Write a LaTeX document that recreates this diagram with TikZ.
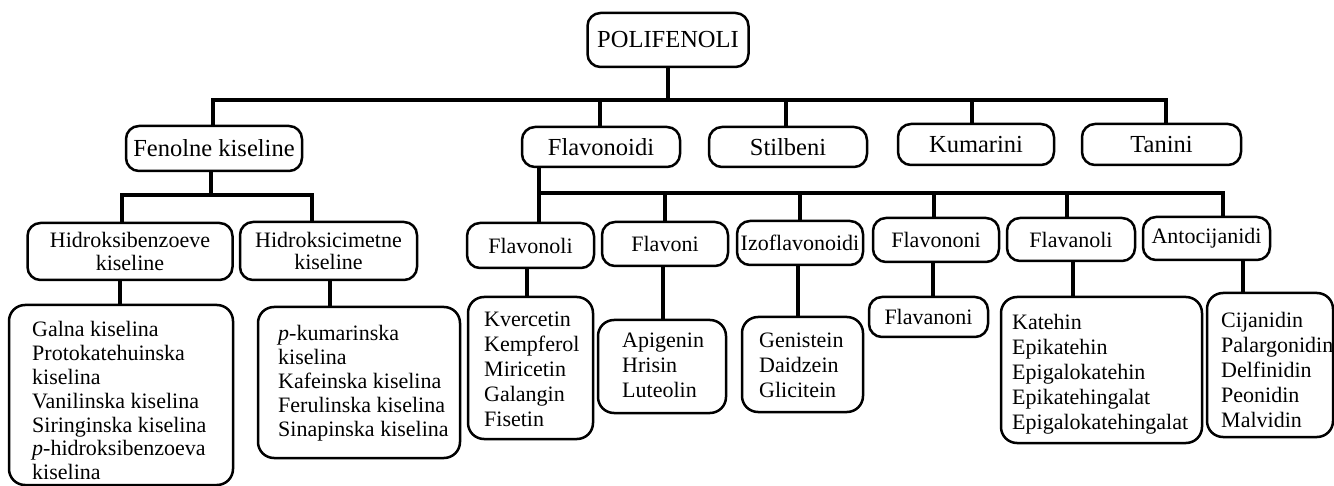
\documentclass[tikz,border=0pt]{standalone}
\usepackage{fontspec}
\setmainfont{Liberation Serif}
\begin{document}
\begin{tikzpicture}[x=1pt,y=-1pt,
  box/.style={draw, line width=2.5pt, rounded corners=13pt, inner sep=0pt},
  lvlA/.style={box, font=\fontsize{24.5}{28}\selectfont},
  lvlB/.style={box, align=center, font=\fontsize{22}{22.3}\selectfont},
  listbox/.style={box, rounded corners=16pt},
  listtxt/.style={align=left, inner sep=0pt, anchor=north west, font=\fontsize{22}{25}\selectfont},
  listtight/.style={listtxt, font=\fontsize{22}{23.9}\selectfont},
  conn/.style={line width=3.2pt}]
\fill[white] (0,0) rectangle (1334,486);
\useasboundingbox (0,0) rectangle (1334,486);

% level 1
\node[lvlA, minimum width=161pt, minimum height=54pt] (pol) at (668,40) {POLIFENOLI};
\node[lvlA, minimum width=176pt, minimum height=45pt] (fen) at (214,148.5) {Fenolne kiseline};
\node[lvlA, minimum width=158pt, minimum height=40pt] (flv) at (601,147) {Flavonoidi};
\node[lvlA, minimum width=158pt, minimum height=40pt] (stil) at (788,147) {Stilbeni};
\node[lvlA, minimum width=156pt, minimum height=41pt] (kum) at (976,144.5) {Kumarini};
\node[lvlA, minimum width=159pt, minimum height=41pt] (tan) at (1161.5,144.5) {Tanini};

% level 2
\node[lvlB, minimum width=205pt, minimum height=57pt] (hb) at (130,251.5) {Hidroksibenzoeve\\kiseline};
\node[lvlB, minimum width=177pt, minimum height=58pt] (hc) at (328.5,251) {Hidroksicimetne\\kiseline};
\node[lvlB, minimum width=127pt, minimum height=45pt] (fol) at (530.5,245.5) {Flavonoli};
\node[lvlB, minimum width=126pt, minimum height=44pt] (fon) at (665,244) {Flavoni};
\node[lvlB, minimum width=126pt, minimum height=44pt] (izo) at (800,243) {Izoflavonoidi};
\node[lvlB, minimum width=126pt, minimum height=44pt] (fnn) at (936,240) {Flavononi};
\node[lvlB, minimum width=128pt, minimum height=43pt] (fln) at (1071,239.5) {Flavanoli};
\node[lvlB, minimum width=127pt, minimum height=43pt] (ant) at (1206.5,238.5) {Antocijanidi};

% level 3 boxes
\node[listbox, minimum width=224pt, minimum height=180pt] (gal) at (121,395) {};
\node[listbox, minimum width=202pt, minimum height=151pt] (pku) at (359,382.5) {};
\node[listbox, minimum width=125pt, minimum height=142pt] (kve) at (530.5,368) {};
\node[listbox, minimum width=128pt, minimum height=93pt] (api) at (662,366.5) {};
\node[listbox, minimum width=121pt, minimum height=95pt] (gen) at (802.5,364.5) {};
\node[lvlB, minimum width=119pt, minimum height=40pt] (fna) at (928.5,317) {Flavanoni};
\node[listbox, minimum width=201pt, minimum height=146pt] (kat) at (1101.5,370) {};
\node[listbox, minimum width=126pt, minimum height=144pt] (cij) at (1270,365) {};

% list texts
\node[listtight] (galT) at (32,321) {Galna kiselina\\Protokatehuinska\\kiselina\\Vanilinska kiselina\\Siringinska kiselina\\\textit{p}-hidroksibenzoeva\\kiselina};
\node[listtight] (pkuT) at (278,325) {\textit{p}-kumarinska\\kiselina\\Kafeinska kiselina\\Ferulinska kiselina\\Sinapinska kiselina};
\node[listtxt] (kveT) at (484,312) {Kvercetin\\Kempferol\\Miricetin\\Galangin\\Fisetin};
\node[listtxt] (apiT) at (622,333) {Apigenin\\Hrisin\\Luteolin};
\node[listtxt] (genT) at (759,333) {Genistein\\Daidzein\\Glicitein};
\node[listtxt] (katT) at (1012,314) {Katehin\\Epikatehin\\Epigalokatehin\\Epikatehingalat\\Epigalokatehingalat};
\node[listtxt] (cijT) at (1221,312) {Cijanidin\\Palargonidin\\Delfinidin\\Peonidin\\Malvidin};

% junction coordinates
\coordinate (t1) at (213,100);
\coordinate (t2) at (600,100);
\coordinate (t3) at (786,100);
\coordinate (t4) at (972,100);
\coordinate (t5) at (1166,100);
\coordinate (f0) at (211,195);
\coordinate (f1) at (122,195);
\coordinate (f2) at (312,195);
\coordinate (g1) at (539,193);
\coordinate (g2) at (665,193);
\coordinate (g3) at (800,193);
\coordinate (g4) at (934,193);
\coordinate (g5) at (1067,193);
\coordinate (g6) at (1223,193);
\coordinate (v1) at (120,0);
\coordinate (v2) at (330,0);
\coordinate (v3) at (527,0);
\coordinate (v4) at (663,0);
\coordinate (v5) at (798,0);
\coordinate (v6) at (933,0);
\coordinate (v7) at (1073,0);
\coordinate (v8) at (1243,0);

% connectors: level 0 -> 1
\draw[conn] (pol.south) -- (pol.south |- t1);
\draw[conn] ([xshift=-1.6pt]t1) -- ([xshift=1.6pt]t5);
\draw[conn] (t1) -- (t1 |- fen.north);
\draw[conn] (t2) -- (t2 |- flv.north);
\draw[conn] (t3) -- (t3 |- stil.north);
\draw[conn] (t4) -- (t4 |- kum.north);
\draw[conn] (t5) -- (t5 |- tan.north);

% Fenolne kiseline
\draw[conn] (fen.south -| f0) -- (f0);
\draw[conn] ([xshift=-1.6pt]f1) -- ([xshift=1.6pt]f2);
\draw[conn] (f1) -- (f1 |- hb.north);
\draw[conn] (f2) -- (f2 |- hc.north);
\draw[conn] (hb.south -| v1) -- (v1 |- gal.north);
\draw[conn] (hc.south -| v2) -- (v2 |- pku.north);

% Flavonoidi
\draw[conn] (flv.south -| g1) -- (g1);
\draw[conn] ([xshift=-1.6pt]g1) -- ([xshift=1.6pt]g6);
\draw[conn] (g1) -- (g1 |- fol.north);
\draw[conn] (g2) -- (g2 |- fon.north);
\draw[conn] (g3) -- (g3 |- izo.north);
\draw[conn] (g4) -- (g4 |- fnn.north);
\draw[conn] (g5) -- (g5 |- fln.north);
\draw[conn] (g6) -- (g6 |- ant.north);
\draw[conn] (fol.south -| v3) -- (v3 |- kve.north);
\draw[conn] (fon.south -| v4) -- (v4 |- api.north);
\draw[conn] (izo.south -| v5) -- (v5 |- gen.north);
\draw[conn] (fnn.south -| v6) -- (v6 |- fna.north);
\draw[conn] (fln.south -| v7) -- (v7 |- kat.north);
\draw[conn] (ant.south -| v8) -- (v8 |- cij.north);
\end{tikzpicture}
\end{document}
